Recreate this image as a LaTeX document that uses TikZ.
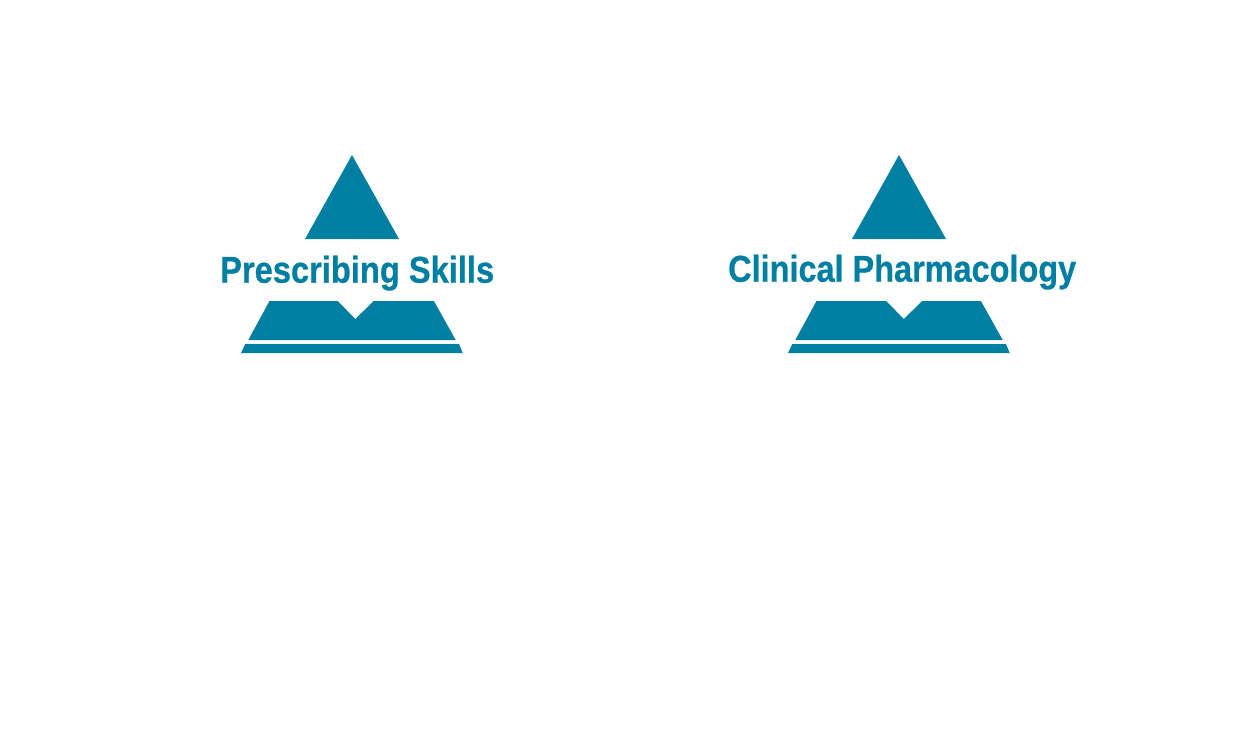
\documentclass[tikz,border=0pt]{standalone}
\usepackage{fontspec}
\usepackage{graphicx}
\setmainfont{Liberation Sans}[BoldFeatures={FakeBold=0.7}]
\definecolor{teal}{HTML}{007FA3}
\tikzset{
  shapefill/.style={fill=teal,draw=none},
  caption/.style={text=teal,inner sep=0pt,anchor=base west,font=\bfseries\fontsize{37.3}{40}\selectfont},
  pics/emblem/.style={code={
    \fill[shapefill] (0,0) -- (-47,84) -- (47,84) -- cycle;
    \fill[shapefill] (-82.5,146) -- (-14.3+#1,146) -- (3.3+#1,164) -- (21.7+#1,146) -- (81.9,146) -- (103.7,185) -- (-103.7,185) -- cycle;
    \fill[shapefill] (-106.7,189) -- (107,189) -- (110.7,198) -- (-111,198) -- cycle;
  }}
}
\begin{document}
\begin{tikzpicture}[x=1pt,y=-1pt]
\useasboundingbox (0,0) rectangle (1257,738);
\pic at (352,155) {emblem=0};
\pic at (899,155) {emblem=1.5};
\node[caption] (skills) at (220,282.7) {\resizebox{274pt}{\height}{Prescribing Skills}};
\node[caption] (pharma) at (728,281.7) {\resizebox{348pt}{\height}{Clinical Pharmacology}};
\end{tikzpicture}
\end{document}
